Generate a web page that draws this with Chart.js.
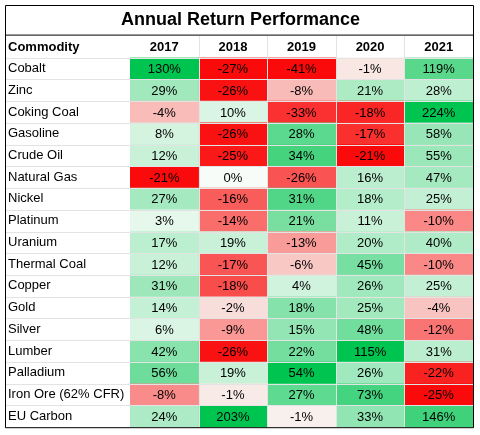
<!DOCTYPE html>
<html lang="en">
  <head>
    <meta charset="UTF-8" />
    <title>Annual Return Performance</title>
    <script src="https://cdn.jsdelivr.net/npm/chart.js"></script>
    <style>
      body { margin: 0; background: #fff; }
      #wrap { width: 480px; height: 435px; }
    </style>
  </head>
  <body>
    <div id="wrap"><canvas id="heat"></canvas></div>
    <script>
      const commodities = ["Cobalt", "Zinc", "Coking Coal", "Gasoline", "Crude Oil", "Natural Gas", "Nickel",
        "Platinum", "Uranium", "Thermal Coal", "Copper", "Gold", "Silver", "Lumber", "Palladium",
        "Iron Ore (62% CFR)", "EU Carbon"];
      const years = ["2017", "2018", "2019", "2020", "2021"];
      const r2017 = [130, 29, -4, 8, 12, -21, 27, 3, 17, 12, 31, 14, 6, 42, 56, -8, 24];
      const r2018 = [-27, -26, 10, -26, -25, 0, -16, -14, 19, -17, -18, -2, -9, -26, 19, -1, 203];
      const r2019 = [-41, -8, -33, 28, 34, -26, 31, 21, -13, -6, 4, 18, 15, 22, 54, 27, -1];
      const r2020 = [-1, 21, -18, -17, -21, 16, 18, 11, 20, 45, 26, 25, 48, 115, 26, 73, 33];
      const r2021 = [119, 28, 224, 58, 55, 47, 25, -10, 40, -10, 25, -4, -12, 31, -22, -25, 146];
      const columns = [r2017, r2018, r2019, r2020, r2021];

      const font = "'Liberation Sans', Arial, sans-serif";

      // colour scale per column: red at min, white at 0, green at max
      function cellColor(v, col) {
        const max = Math.max(...col), min = Math.min(...col);
        const mid = [248, 252, 248];
        let t, end;
        if (v >= 0) { t = Math.pow(v / max, 0.7); end = [0, 196, 80]; }
        else { t = Math.pow(v / min, 0.8); end = [250, 10, 10]; }
        const c = mid.map((m, i) => Math.round(m + (end[i] - m) * t));
        return `rgb(${c[0]},${c[1]},${c[2]})`;
      }

      const datasets = columns.map((col, j) => ({
        label: years[j],
        data: col.map(() => [j, j + 1]),
        values: col,
        backgroundColor: col.map((v) => cellColor(v, col)),
        barPercentage: 1,
        categoryPercentage: 1,
        grouped: false,
      }));

      const tablePlugin = {
        id: "tablePlugin",
        afterDatasetsDraw(chart) {
          const ctx = chart.ctx;
          const area = chart.chartArea;
          const x = chart.scales.x;
          ctx.save();
          ctx.font = "13px " + font;
          ctx.fillStyle = "#000";
          ctx.textAlign = "center";
          ctx.textBaseline = "middle";
          chart.data.datasets.forEach((ds, j) => {
            chart.getDatasetMeta(j).data.forEach((el, i) => {
              ctx.fillText(ds.values[i] + "%", (el.x + el.base) / 2, el.y + 1);
            });
          });
          // light cell separators
          const rowH = (area.bottom - area.top) / commodities.length;
          ctx.strokeStyle = "#e3e3e3";
          ctx.lineWidth = 1;
          for (let i = 0; i < commodities.length; i++) {
            const yy = Math.round(area.top + i * rowH) + 0.5;
            ctx.beginPath(); ctx.moveTo(5, yy); ctx.lineTo(area.right, yy); ctx.stroke();
          }
          for (let j = 1; j < years.length; j++) {
            const xx = Math.round(x.getPixelForValue(j)) + 0.5;
            ctx.beginPath(); ctx.moveTo(xx, area.top - 22); ctx.lineTo(xx, area.bottom); ctx.stroke();
          }
          // header row
          ctx.font = "bold 13px " + font;
          ctx.textAlign = "left";
          ctx.fillText("Commodity", 8, area.top - 10);
          ctx.textAlign = "center";
          years.forEach((yr, j) => ctx.fillText(yr, x.getPixelForValue(j + 0.5), area.top - 10));
          // outer borders
          ctx.strokeStyle = "#000";
          ctx.beginPath();
          ctx.rect(5.5, 5.5, area.right - 5, area.bottom - 5);
          ctx.moveTo(5, area.top - 22.5); ctx.lineTo(area.right, area.top - 22.5);
          ctx.stroke();
          ctx.restore();
        },
      };

      new Chart(document.getElementById("heat"), {
        type: "bar",
        data: { labels: commodities, datasets: datasets },
        options: {
          indexAxis: "y",
          responsive: true,
          maintainAspectRatio: false,
          animation: false,
          layout: { padding: { left: 8, right: 7, bottom: 6, top: 0 } },
          plugins: {
            legend: { display: false },
            tooltip: { enabled: false },
            title: {
              display: true,
              text: "Annual Return Performance",
              color: "#000",
              font: { family: font, size: 18, weight: "bold" },
              padding: { top: 9, bottom: 5 },
            },
          },
          scales: {
            x: {
              type: "linear",
              position: "top",
              min: 0,
              max: 5,
              grid: { display: false },
              border: { display: false },
              ticks: { display: false },
              afterFit: (s) => { s.height = 22; },
            },
            y: {
              grid: { display: false },
              border: { display: false },
              afterFit: (s) => { s.width = 122; },
              ticks: {
                color: "#000",
                crossAlign: "far",
                padding: 0,
                font: { family: font, size: 13 },
              },
            },
          },
        },
        plugins: [tablePlugin],
      });
    </script>
  </body>
</html>
